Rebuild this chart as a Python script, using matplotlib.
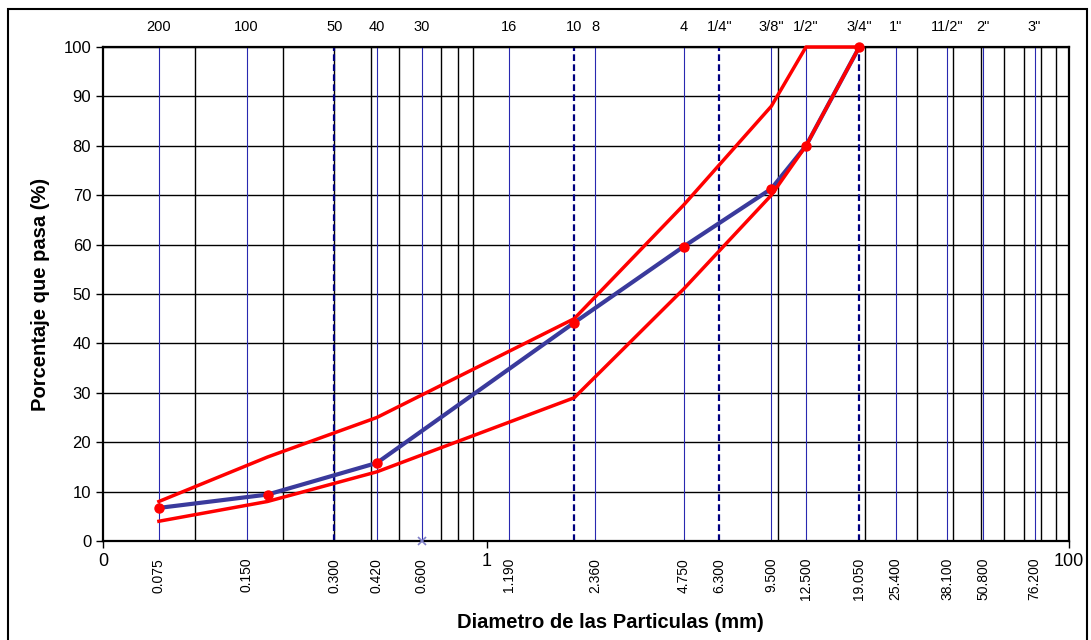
import matplotlib
matplotlib.use("Agg")
import matplotlib.pyplot as plt
from matplotlib.patches import Rectangle

plt.rcParams['font.family'] = ['Liberation Sans', 'DejaVu Sans']

# --- sieve sizes (mm) and names ---
sieve_mm = [0.075, 0.150, 0.300, 0.420, 0.600, 1.190, 2.000, 2.360, 4.750,
            6.300, 9.500, 12.500, 19.050, 25.400, 38.100, 50.800, 76.200]
sieve_names = ['200', '100', '50', '40', '30', '16', '10', '8', '4',
               '1/4"', '3/8"', '1/2"', '3/4"', '1"', '11/2"', '2"', '3"']
dashed_sieves = [0.300, 2.000, 6.300, 19.050]
bottom_labels = [0.075, 0.150, 0.300, 0.420, 0.600, 1.190, 2.360, 4.750,
                 6.300, 9.500, 12.500, 19.050, 25.400, 38.100, 50.800, 76.200]

# black grid lines (x)
grid_x = [0.1, 0.2, 0.3, 0.4, 0.5, 0.7, 0.8, 0.9,
          10, 20, 30, 40, 50, 60, 70, 80, 90]

# --- gradation curves ---
curve_mm = [0.075, 0.177, 0.420, 2.000, 4.750, 9.500, 12.500, 19.050]
muestra = [6.7, 9.4, 15.8, 44.2, 59.6, 71.3, 80.0, 100.0]
lim_inf = [4, 8, 14, 29, 51, 70, 80, 100]
lim_sup = [8, 17, 25, 45, 68, 88, 100, 100]

extra_x = [0.600]
extra_y = [0.0]

x_min, x_max = 0.0482, 100

fig = plt.figure(figsize=(10.91, 6.40), dpi=100)
ax = fig.add_axes([103/1091, 1 - 541/640, (1069-103)/1091, (541-47)/640])
ax.set_xscale('log')
ax.set_xlim(x_min, x_max)
ax.set_ylim(0, 100)

# grid
for y in range(10, 101, 10):
    ax.axhline(y, color='black', lw=1.0, zorder=1)
for gx in grid_x:
    ax.axvline(gx, color='black', lw=1.0, zorder=1)

# sieve lines
for s in sieve_mm:
    if s in dashed_sieves:
        ax.axvline(s, color='#000080', lw=1.6, ls=(0, (3, 1.5)), zorder=2)
    else:
        ax.axvline(s, color='#2828b0', lw=0.8, zorder=2)

# curves
ax.plot(curve_mm, lim_inf, color='red', lw=2.5, zorder=4, clip_on=False)
ax.plot(curve_mm, lim_sup, color='red', lw=2.5, zorder=4, clip_on=False)
ax.plot(curve_mm, muestra, color='#3a3a9c', lw=3, zorder=3, clip_on=False)
ax.plot(curve_mm, muestra, ls='none', marker='o', ms=6.5, color='red',
        zorder=5, clip_on=False)
ax.plot(extra_x, extra_y, ls='none', marker='x', ms=6, mew=1.2,
        color='#8080c8', zorder=5, clip_on=False)

# sieve names on top
for s, name in zip(sieve_mm, sieve_names):
    ax.text(s, 1.041, name, transform=ax.get_xaxis_transform(),
            ha='center', va='center', fontsize=10.5)

# sieve openings at bottom
for s in bottom_labels:
    ax.text(s, -0.034, f"{s:.3f}", transform=ax.get_xaxis_transform(),
            ha='center', va='top', rotation=90, fontsize=10)

# axes ticks
ax.set_xticks([x_min, 1, 100])
ax.set_xticklabels(['0', '1', '100'], fontsize=13)
ax.xaxis.set_minor_locator(plt.NullLocator())
ax.tick_params(axis='x', direction='out', length=5, width=1, pad=4)
ax.set_yticks(range(0, 101, 10))
ax.set_yticklabels([str(v) for v in range(0, 101, 10)], fontsize=12)
ax.tick_params(axis='y', direction='out', length=5, width=1)
for sp in ax.spines.values():
    sp.set_linewidth(1.6)

ax.set_ylabel('Porcentaje que pasa (%)', fontsize=14.5, fontweight='bold',
              labelpad=10)
fig.text(610/1091, 1 - 622/640, 'Diametro de las Particulas (mm)',
         ha='center', va='center', fontsize=14.5, fontweight='bold')

# outer frame
fig.patches.append(Rectangle((8/1091, -0.05), 1079/1091, 1.05 - 9/640,
                             transform=fig.transFigure, fill=False,
                             edgecolor='black', lw=1.5))

fig.savefig('out.png', dpi=100)
